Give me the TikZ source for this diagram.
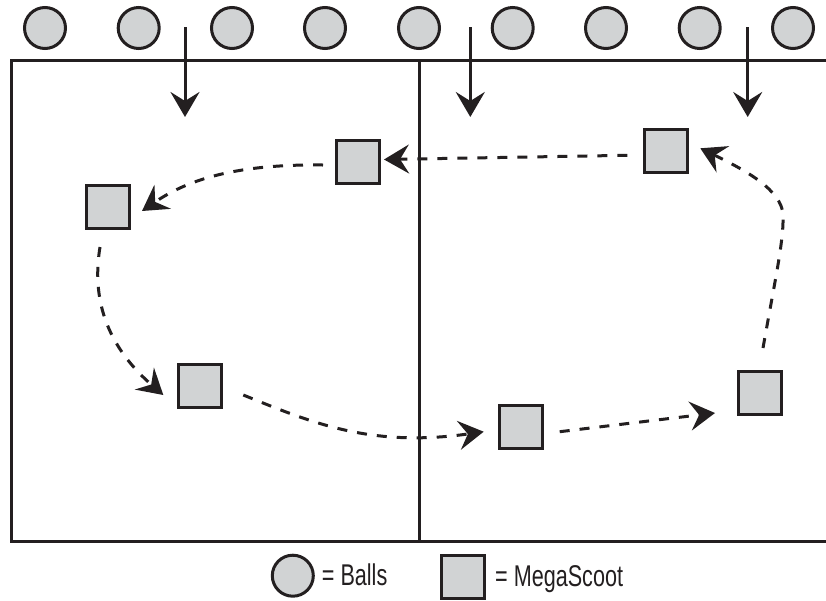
\documentclass[tikz,border=0pt]{standalone}
\usepackage{graphicx}
\usepackage{fontspec}
\newfontfamily\condfont{Liberation Sans}
\usetikzlibrary{arrows.meta}
\definecolor{ink}{HTML}{231F20}
\definecolor{ballgray}{HTML}{D1D3D4}
\newcommand{\condtext}[1]{\scalebox{0.72}[1]{\condfont\fontsize{30}{36}\selectfont #1}}
\begin{document}
\begin{tikzpicture}[x=1pt,y=-1pt,
  ball/.style={circle,draw=ink,fill=ballgray,line width=3pt,minimum size=41pt,inner sep=0pt},
  scoot/.style={rectangle,draw=ink,fill=ballgray,line width=3pt,minimum size=43pt,inner sep=0pt},
  court/.style={draw=ink,line width=3pt},
  tipstyle/.style={-{Stealth[length=25pt,width=29pt,inset=9pt]}},
  drop/.style={draw=ink,line width=3pt,tipstyle},
  path/.style={draw=ink,line width=3pt,dash pattern=on 10pt off 10pt,tipstyle},
  legend/.style={anchor=base west,inner sep=0pt,text=ink}]
\useasboundingbox (0,0) rectangle (826,600);
% court
\draw[court] (828,60) -- (11.5,60) -- (11.5,541.7) -- (828,541.7);
\draw[court] (419.7,60) -- (419.7,541.7);
% balls
\foreach \i/\x in {1/45,2/138.7,3/232,4/325,5/419,6/512.7,7/606,8/699.7,9/793}
  \node[ball] (ball\i) at (\x,28) {};
% drop arrows
\coordinate (d1s) at (185,27); \coordinate (d1e) at (185,117);
\coordinate (d2s) at (470.3,27); \coordinate (d2e) at (470.3,117);
\coordinate (d3s) at (747.7,27); \coordinate (d3e) at (747.7,117);
\draw[drop] (d1s) -- (d1e);
\draw[drop] (d2s) -- (d2e);
\draw[drop] (d3s) -- (d3e);
% scooters
\node[scoot] (s1) at (358,161.5) {};
\node[scoot] (s2) at (108,207) {};
\node[scoot] (s3) at (200.3,385.5) {};
\node[scoot] (s4) at (520.7,426.7) {};
\node[scoot] (s5) at (760,393) {};
\node[scoot] (s6) at (666.3,151.3) {};
% paths
\draw[path] ([shift={(-16,4)}]s6.west) -- ([shift={(3,-2)}]s1.east);
\draw[path] ([shift={(-12,3.5)}]s1.west) .. controls (240,164) and (190,178) .. ([shift={(11,4)}]s2.east);
\draw[path] ([shift={(-8,17)}]s2.south) .. controls (93,290) and (100,340) .. ([shift={(-14,9.5)}]s3.west);
\draw[path] ([shift={(20,9.5)}]s3.east) .. controls (310,422) and (370,448) .. ([shift={(-14,5)}]s4.west);
\draw[path] ([shift={(16,5)}]s4.east) -- ([shift={(-22,20)}]s5.west);
\draw[path] ([shift={(3,-22)}]s5.north) .. controls (775,280) and (784,240) .. (783,215) .. controls (782,190) and (745,170) .. ([shift={(11,-3)}]s6.east);
% legend
\node[ball] (lball) at (292.8,575.7) {};
\node[legend] (lballtext) at (321.7,585) {\condtext{= Balls}};
\node[scoot] (lscoot) at (462.5,576.7) {};
\node[legend] (lscoottext) at (495,586) {\condtext{= MegaScoot}};
\end{tikzpicture}
\end{document}
